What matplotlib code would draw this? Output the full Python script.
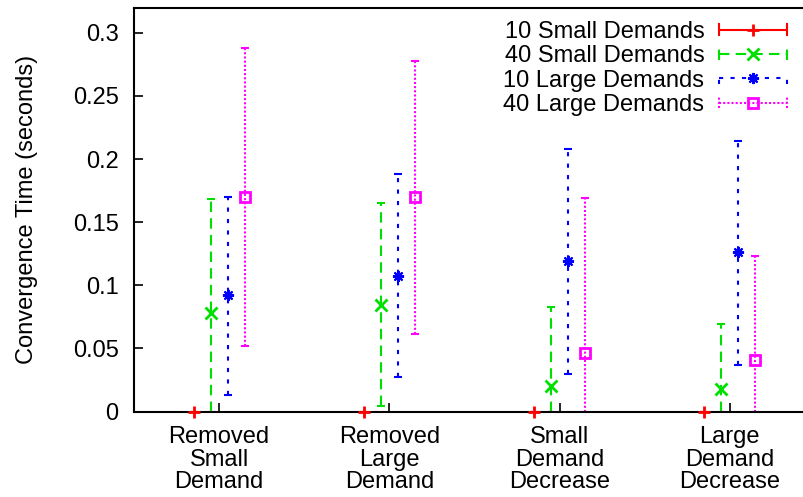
import numpy as np
import matplotlib.pyplot as plt
from matplotlib.lines import Line2D
from matplotlib.legend_handler import HandlerBase

plt.rcParams['font.family'] = ['Liberation Sans', 'DejaVu Sans']

categories = ["Removed\nSmall\nDemand", "Removed\nLarge\nDemand",
              "Small\nDemand\nDecrease", "Large\nDemand\nDecrease"]
series_names = ["10 Small Demands", "40 Small Demands",
                "10 Large Demands", "40 Large Demands"]

# mean convergence time with min / max range, one list per series
small10_mean = [0.0, 0.0, 0.0, 0.0]
small10_low = [0.0, 0.0, 0.0, 0.0]
small10_high = [0.0, 0.0, 0.0, 0.0]

small40_mean = [0.078, 0.084, 0.020, 0.018]
small40_low = [0.0, 0.004, 0.0, 0.0]
small40_high = [0.168, 0.165, 0.083, 0.069]

large10_mean = [0.092, 0.107, 0.119, 0.126]
large10_low = [0.013, 0.027, 0.030, 0.037]
large10_high = [0.170, 0.188, 0.208, 0.214]

large40_mean = [0.170, 0.170, 0.046, 0.041]
large40_low = [0.052, 0.061, 0.0, 0.0]
large40_high = [0.288, 0.278, 0.169, 0.123]

means = [small10_mean, small40_mean, large10_mean, large40_mean]
lows = [small10_low, small40_low, large10_low, large40_low]
highs = [small10_high, small40_high, large10_high, large40_high]

colors = ["#ff0000", "#00e000", "#0000ff", "#ff00ff"]
linestyles = ['-', (0, (5, 3)), (0, (2, 3.5)), (0, (1, 1))]
markers = ["+", "x", (8, 2, 0), "s"]
msizes = [8, 8, 8, 7]
mews = [2, 2, 1.5, 2]
offsets = [-0.15, -0.05, 0.05, 0.15]


class GnuplotErrHandler(HandlerBase):
    """Legend sample: horizontal line with end caps and the point in the middle."""
    def __init__(self, ls, **kw):
        super().__init__(**kw)
        self.ls = ls

    def create_artists(self, legend, orig, xdescent, ydescent, width, height, fontsize, trans):
        y = height / 2 - ydescent
        x0, x1 = -xdescent, width - xdescent
        kw = dict(color=orig.get_color(), linewidth=orig.get_linewidth(),
                  linestyle=self.ls, transform=trans)
        line = Line2D([x0, x1], [y, y], **kw)
        cap = 4
        c0 = Line2D([x0, x0], [y - cap, y + cap], **kw)
        c1 = Line2D([x1, x1], [y - cap, y + cap], **kw)
        pt = Line2D([(x0 + x1) / 2], [y], marker=orig.get_marker(),
                    markersize=orig.get_markersize(), markerfacecolor='none',
                    markeredgecolor=orig.get_color(),
                    markeredgewidth=orig.get_markeredgewidth(),
                    linestyle='none', transform=trans)
        return [line, c0, c1, pt]


fig = plt.figure(figsize=(8.04, 4.97), dpi=100)
ax = fig.add_axes([134 / 804, (497 - 411.5) / 497, 681 / 804, 404 / 497])

x = np.arange(1, len(categories) + 1)
handles = []
hmap = {}
for i in range(len(series_names)):
    m = np.array(means[i])
    lo = m - np.array(lows[i])
    hi = np.array(highs[i]) - m
    cont = ax.errorbar(x + offsets[i], m, yerr=[lo, hi], fmt='none',
                       ecolor=colors[i], elinewidth=1.5, capsize=3, capthick=1.5)
    for lc in cont.lines[2]:
        lc.set_linestyle(linestyles[i])
        lc.set_clip_on(False)
    ax.plot(x + offsets[i], m, linestyle='none', marker=markers[i],
            markersize=msizes[i], markerfacecolor='none', markeredgecolor=colors[i],
            markeredgewidth=mews[i], clip_on=False, zorder=5)
    h = Line2D([], [], color=colors[i], linewidth=1.5,
               marker=markers[i], markersize=msizes[i], markeredgewidth=mews[i])
    handles.append(h)
    hmap[h] = GnuplotErrHandler(linestyles[i])

ax.set_xlim(0.5, 4.5)
ax.set_ylim(0, 0.32)
ax.set_xticks(x)
ax.set_xticklabels(categories, fontsize=17, linespacing=1.03)
ax.set_yticks([0, 0.05, 0.1, 0.15, 0.2, 0.25, 0.3])
ax.set_yticklabels(["0", "0.05", "0.1", "0.15", "0.2", "0.25", "0.3"], fontsize=17)
ax.tick_params(axis='both', direction='in', length=6.5, width=1.2, top=False, right=False)
ax.tick_params(axis='y', pad=11)
ax.tick_params(axis='x', pad=10.5)
ax.set_ylabel("Convergence Time (seconds)", fontsize=17, labelpad=25)
for s in ax.spines.values():
    s.set_linewidth(1.5)

ax.legend(handles, series_names, handler_map=hmap,
          loc='upper right', bbox_to_anchor=(787 / 804, 1 - 21 / 497),
          bbox_transform=fig.transFigure, frameon=False, markerfirst=False,
          fontsize=17, handlelength=2.9, handletextpad=0.6, labelspacing=0.1,
          borderpad=0, borderaxespad=0)

fig.savefig("out.png", dpi=100)
